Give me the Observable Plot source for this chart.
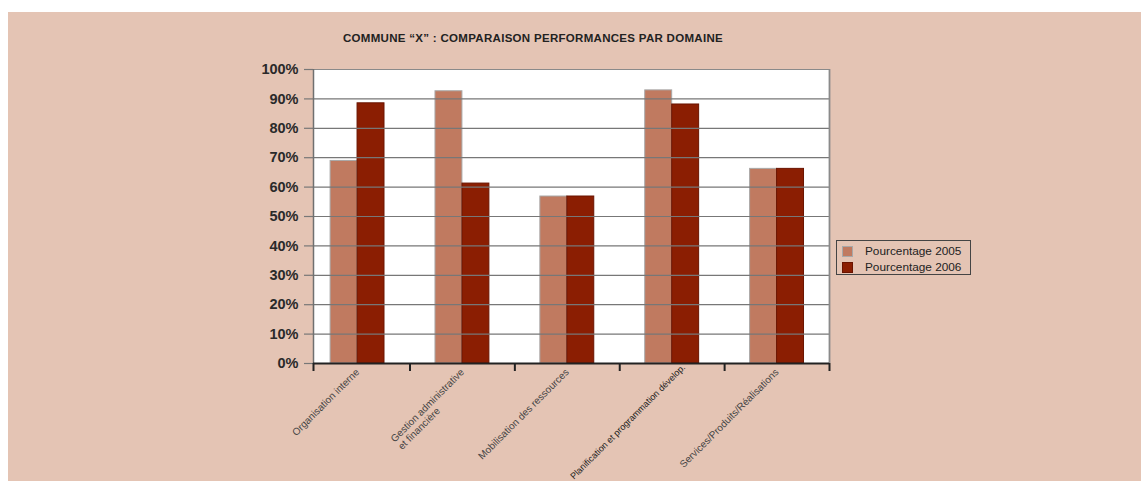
<!DOCTYPE html>
<html>
<head>
<meta charset="utf-8">
<script src="https://cdn.jsdelivr.net/npm/d3@7"></script>
<script src="https://cdn.jsdelivr.net/npm/@observablehq/plot@0.6"></script>
<style>
  html, body { margin: 0; padding: 0; background: #ffffff; }
  #panel { position: absolute; left: 8px; top: 12px; width: 1133px; height: 469px; background: #E4C4B4; overflow: hidden; }
  #title { position: absolute; left: 335px; top: 20px; font-family: "Liberation Sans", Arial, sans-serif; font-weight: bold; font-size: 11.5px; color: #222; letter-spacing: 0.3px; white-space: nowrap; }
  #chart { position: absolute; left: 0; top: 0; }
  #legend { position: absolute; left: 828px; top: 228px; width: 133px; height: 33px; border: 1px solid #444; font-family: "Liberation Sans", Arial, sans-serif; font-size: 11.8px; color: #222; }
  .row { position: absolute; left: 5px; height: 13px; line-height: 13px; white-space: nowrap; }
  .sw { display: inline-block; width: 11px; height: 11px; vertical-align: top; margin-top: 1px; margin-right: 12px; box-sizing: border-box; }
</style>
</head>
<body>
<div id="panel">
  <div id="title"></div>
  <div id="chart"></div>
  <div id="legend"></div>
</div>
<script>
const categories = [
  "Organisation interne",
  "Gestion administrative\net financière",
  "Mobilisation des ressources",
  "Planification et programmation dévelop.",
  "Services/Produits/Réalisations"
];
const pct2005 = [68.9, 92.6, 56.8, 92.9, 66.2];
const pct2006 = [88.5, 61.2, 56.8, 88.1, 66.2];
const seriesNames = ["Pourcentage 2005", "Pourcentage 2006"];
const seriesColors = ["#C07A60", "#8B1E02"];
const seriesStrokes = ["#a8a8a8", "#6a1400"];
const yTicks = [0, 10, 20, 30, 40, 50, 60, 70, 80, 90, 100];
const titleText = "COMMUNE \u201CX\u201D : COMPARAISON PERFORMANCES PAR DOMAINE";

document.getElementById("title").textContent = titleText;

const xMin = 0.08, xMax = categories.length;
const halfW = 0.257;
const rows = categories.flatMap((c, i) => [
  {i, cat: c, s: 0, v: pct2005[i]},
  {i, cat: c, s: 1, v: pct2006[i]}
]);
const labels = categories.map((c, i) => ({i, cat: c}));
const edges = [xMin, ...d3.range(1, categories.length + 1)];

const W = 1133, H = 469;
const chart = Plot.plot({
  width: W,
  height: H,
  marginLeft: 305,
  marginRight: 312,
  marginTop: 57,
  marginBottom: 118,
  style: {background: "transparent", overflow: "visible", fontFamily: "'Liberation Sans', Arial, sans-serif"},
  x: {type: "linear", domain: [xMin, xMax], axis: null},
  y: {domain: [0, 100], axis: null},
  marks: [
    Plot.frame({fill: "white", stroke: null}),
    Plot.rect(rows, {
      x1: d => d.i + 0.5 + (d.s === 0 ? -halfW : 0),
      x2: d => d.i + 0.5 + (d.s === 0 ? 0 : halfW),
      y1: 0,
      y2: "v",
      fill: d => seriesColors[d.s],
      stroke: d => seriesStrokes[d.s],
      strokeWidth: 1
    }),
    Plot.gridY(yTicks, {stroke: "#777777", strokeOpacity: 1, strokeWidth: 1.2}),
    Plot.axisY({ticks: yTicks, tickFormat: d => d + "%", tickSize: 9, tickPadding: 6, stroke: "#777777", strokeWidth: 1.2, fontSize: 14.5, fontWeight: "bold", fill: "#2a2a2a", label: null}),
    Plot.ruleY([100], {stroke: "#8a8a8a", strokeWidth: 1.2}),
    Plot.ruleX([xMin], {stroke: "#707070", strokeWidth: 1.5}),
    Plot.ruleX([xMax], {stroke: "#8a8a8a", strokeWidth: 1.8}),
    Plot.axisX({ticks: edges, tickFormat: () => "", tickSize: 8, stroke: "#222", strokeWidth: 2, label: null}),
    Plot.ruleY([0], {stroke: "#222", strokeWidth: 2, x1: xMin, x2: xMax}),
    Plot.text(labels.filter(d => d.i !== 3), {
      x: d => d.i + 0.5,
      y: 0,
      text: "cat",
      rotate: -45,
      textAnchor: "end",
      lineAnchor: "top",
      lineHeight: 1.05,
      dx: -3,
      dy: 4,
      fontSize: 10,
      fill: "#444"
    }),
    Plot.text(labels.filter(d => d.i === 3), {
      x: d => d.i + 0.5,
      y: 0,
      text: "cat",
      rotate: -45,
      textAnchor: "end",
      lineAnchor: "top",
      dx: 9,
      dy: 0,
      fontSize: 9,
      fill: "#1a1a1a"
    })
  ]
});
document.getElementById("chart").appendChild(chart);

// start-align the lines of multi-line category labels (block right edge at anchor)
chart.querySelectorAll("text").forEach(t => {
  const spans = t.querySelectorAll("tspan");
  if (spans.length > 1) {
    const lens = Array.from(spans).map(s => s.getComputedTextLength());
    const maxLen = Math.max(...lens);
    t.setAttribute("text-anchor", "start");
    spans.forEach(s => s.setAttribute("x", -maxLen));
  }
});

const legend = document.getElementById("legend");
seriesNames.forEach((name, k) => {
  const row = document.createElement("div");
  row.className = "row";
  row.style.top = (4 + k * 16) + "px";
  const sw = document.createElement("span");
  sw.className = "sw";
  sw.style.background = seriesColors[k];
  sw.style.border = "1px solid " + seriesStrokes[k];
  row.appendChild(sw);
  row.appendChild(document.createTextNode(name));
  legend.appendChild(row);
});
</script>
</body>
</html>
